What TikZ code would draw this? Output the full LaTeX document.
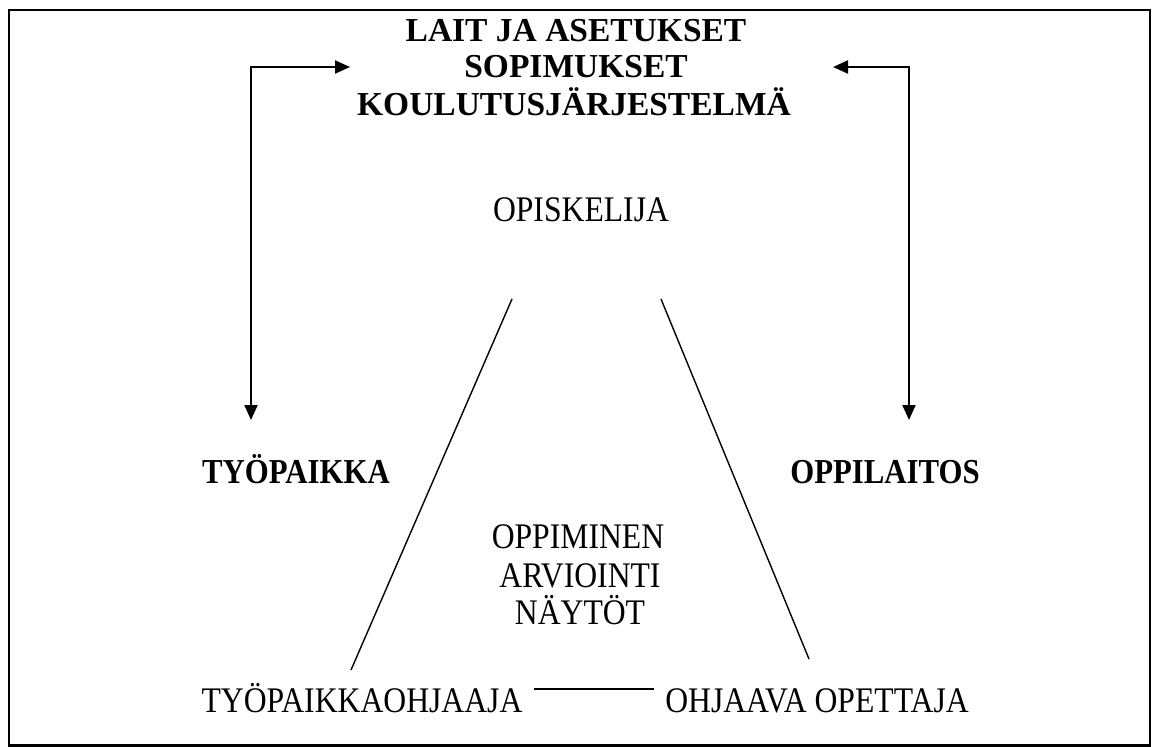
\documentclass[tikz,border=0pt]{standalone}
\usepackage{fontspec}
\setmainfont{Liberation Serif}
\newfontfamily\condserif{Liberation Serif}[FakeStretch=0.88]
\usetikzlibrary{arrows.meta}
\begin{document}
\begin{tikzpicture}[x=1pt,y=-1pt,
  lbl/.style={anchor=base, inner sep=0pt, font=\condserif\fontsize{36}{38}\selectfont},
  headline/.style={anchor=base, inner sep=0pt, font=\bfseries\fontsize{33.5}{36}\selectfont},
  side/.style={anchor=base, inner sep=0pt, font=\condserif\bfseries\fontsize{35}{36}\selectfont},
  link/.style={line width=1.4pt},
  twoway/.style={line width=2pt,
    {Triangle[length=15pt,width=13pt]}-{Triangle[length=15pt,width=13pt]}}]
\useasboundingbox (0,0) rectangle (1152,747);
% frame
\draw[line width=2.5pt] (9,10) rectangle (1150,745.5);

% heading block
\node[headline] (laws) at (576,41) {LAIT JA ASETUKSET};
\node[headline] (agreements) at (576,77) {SOPIMUKSET};
\node[headline] (system) at (574,115) {KOULUTUSJÄRJESTELMÄ};

% actors
\node[lbl] (student) at (581,221) {OPISKELIJA};
\node[side] (work) at (296,483) {TYÖPAIKKA};
\node[side] (school) at (885,483) {OPPILAITOS};
\node[lbl] (learn) at (578,548) {OPPIMINEN};
\node[lbl] (assess) at (580,587) {ARVIOINTI};
\node[lbl] (demo) at (580,624) {NÄYTÖT};
\node[lbl] (supervisor) at (362,712) {TYÖPAIKKAOHJAAJA};
\node[lbl] (teacher) at (817,712) {OHJAAVA OPETTAJA};

% two-way links between the heading and the workplace / school
\coordinate (wtop) at (350,67);
\coordinate (wend) at (251,420);
\coordinate (stop) at (833,67);
\coordinate (send) at (909,420);
\draw[twoway] (wend) |- (wtop);
\draw[twoway] (send) |- (stop);

% triangle student - supervisor - teacher
\coordinate (tl) at (512,299);
\coordinate (bl) at (351,670);
\coordinate (tr) at (661,299);
\coordinate (br) at (809,659);
\draw[link] (tl) -- (bl);
\draw[link] (tr) -- (br);
\draw[link] ([shift={(11,-23)}]supervisor.base east) -- ([shift={(-11,-23)}]teacher.base west);
\end{tikzpicture}
\end{document}
